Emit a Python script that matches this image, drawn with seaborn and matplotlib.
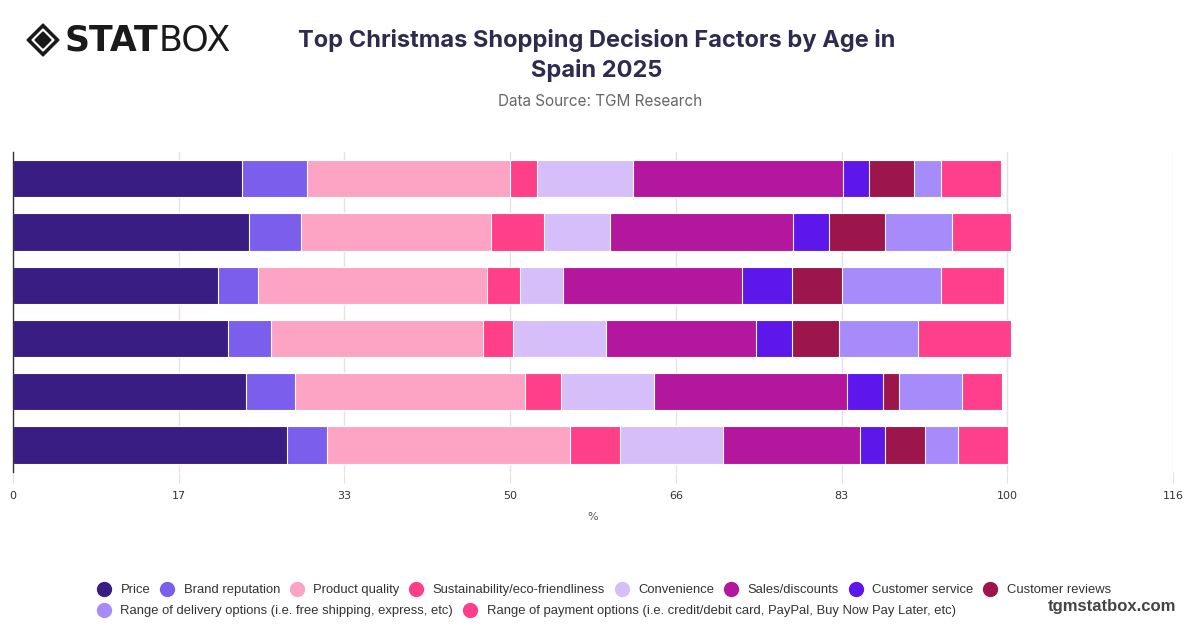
import matplotlib
matplotlib.use("Agg")
import matplotlib.pyplot as plt
from matplotlib.lines import Line2D
from matplotlib.patches import Polygon
import seaborn as sns
import pandas as pd

# age groups (not labelled on the chart)
groups = ["18-24", "25-34", "35-44", "45-54", "55-64", "65+"]

factors = ["Price", "Brand reputation", "Product quality", "Sustainability/eco-friendliness",
           "Convenience", "Sales/discounts", "Customer service", "Customer reviews",
           "Range of delivery options (i.e. free shipping, express, etc)",
           "Range of payment options (i.e. credit/debit card, PayPal, Buy Now Pay Later, etc)"]

price        = [22.9, 23.6, 20.5, 21.5, 23.3, 27.5]
brand        = [6.6, 5.3, 4.0, 4.3, 5.0, 4.0]
quality      = [20.3, 19.0, 23.0, 21.3, 23.0, 24.3]
sustain      = [2.7, 5.3, 3.3, 3.0, 3.6, 5.0]
convenience  = [9.6, 6.6, 4.3, 9.3, 9.3, 10.3]
sales        = [21.0, 18.3, 17.9, 15.0, 19.3, 13.7]
service      = [2.6, 3.6, 5.0, 3.6, 3.7, 2.6]
reviews      = [4.6, 5.7, 5.0, 4.7, 1.6, 4.0]
delivery     = [2.7, 6.7, 10.0, 8.0, 6.3, 3.3]
payment      = [6.0, 5.9, 6.3, 9.3, 4.0, 5.0]

colors = ["#391d83", "#7b5fec", "#fda3c3", "#ff4088", "#d6bff9",
          "#b3179e", "#5e17eb", "#9c164c", "#a78bfa", "#ff3f8b"]

series = [price, brand, quality, sustain, convenience, sales, service, reviews, delivery, payment]

df = pd.DataFrame({f: v for f, v in zip(factors, series)}, index=groups)
cum = df.cumsum(axis=1)

fig = plt.figure(figsize=(12, 6.28), dpi=100)
ax = fig.add_axes([0.0108, 0.249, 0.9667, 0.509])

# stacked bars: draw cumulative totals from the widest down
for i in range(len(factors) - 1, -1, -1):
    sns.barplot(x=cum[factors[i]].values, y=groups, orient="h", color=colors[i],
                width=0.7, ax=ax, edgecolor="white", linewidth=0.8, saturation=1)

ticks = [16.6 * i for i in range(8)]
ax.set_xlim(0, 116.2)
ax.set_ylim(5.5, -0.5)
ax.set_xticks(ticks)
ax.set_xticklabels([str(int(round(t))) for t in ticks], fontsize=8, color="#333333")
ax.set_yticks([])
ax.set_ylabel("")
ax.set_xlabel("%", fontsize=8, color="#555555", labelpad=8)
ax.grid(axis="x", color="#e3e3e3", linewidth=1)
ax.set_axisbelow(True)
ax.tick_params(axis="x", length=8, color="#e3e3e3", pad=6)
for s in ["top", "right", "bottom"]:
    ax.spines[s].set_visible(False)
ax.spines["left"].set_color("#333333")
ax.spines["left"].set_linewidth(1)

# title
fig.text(0.497, 0.935, "Top Christmas Shopping Decision Factors by Age in", ha="center", va="center",
         fontsize=17, fontweight="bold", color="#2e2b4e", family="Inter")
fig.text(0.497, 0.887, "Spain 2025", ha="center", va="center",
         fontsize=17, fontweight="bold", color="#2e2b4e", family="Inter")
fig.text(0.5, 0.838, "Data Source: TGM Research", ha="center", va="center",
         fontsize=11, color="#666666", family="Inter")

# logo
cx, cy = 43 / 1200, 1 - 40 / 628
def diamond(cx, cy, r, color):
    rx = r / 1200
    ry = r / 628
    fig.patches.append(Polygon([[cx - rx, cy], [cx, cy + ry], [cx + rx, cy], [cx, cy - ry]],
                               closed=True, transform=fig.transFigure, color=color))
diamond(cx, cy, 16, "#1a1a1a")
diamond(cx, cy, 11, "white")
diamond(cx, cy, 8, "#1a1a1a")
fig.text(0.054, 0.936, "STAT", ha="left", va="center", fontsize=25, fontweight="heavy",
         color="#1a1a1a", family="DejaVu Sans")
fig.text(0.1325, 0.936, "BOX", ha="left", va="center", fontsize=25,
         color="#1a1a1a", family="DejaVu Sans")

# legend
handles = [Line2D([0], [0], marker="o", linestyle="", markersize=10,
                  markerfacecolor=c, markeredgecolor=c) for c in colors]
kw = dict(loc="center left", frameon=False, handletextpad=0.7, columnspacing=0.75,
          borderpad=0, borderaxespad=0, handlelength=1.1,
          prop={"family": "Liberation Sans", "size": 9.4})
leg1 = fig.legend(handles[:8], factors[:8], bbox_to_anchor=(0.0808, 1 - 590 / 628), ncol=8, **kw)
leg2 = fig.legend(handles[8:], factors[8:], bbox_to_anchor=(0.0808, 1 - 611 / 628), ncol=2, **kw)
for leg in (leg1, leg2):
    for t in leg.get_texts():
        t.set_color("#333333")

fig.text(1112 / 1200, 1 - 607 / 628, "tgmstatbox.com", ha="center", va="center", fontsize=12,
         fontweight="bold", color="#444444", family="Liberation Sans")

fig.savefig("out.png", dpi=100)
